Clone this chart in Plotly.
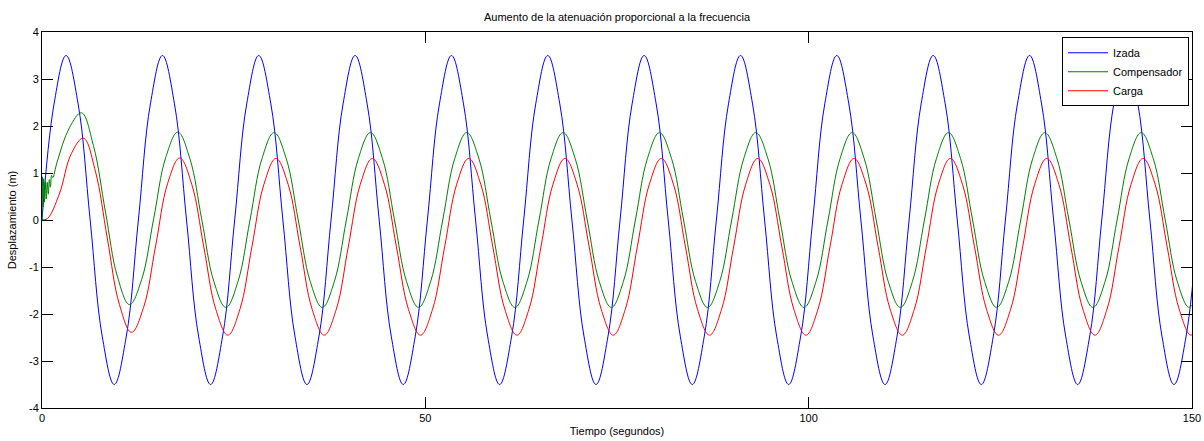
import plotly.graph_objects as go

# ---- Izada (hoist) : samples every 1/8 cycle -------------------------------
izada_t = [
    0.00, 1.57, 3.14, 4.71, 6.28, 7.85, 9.42, 11.00,
    12.57, 14.14, 15.71, 17.28, 18.85, 20.42, 21.99, 23.56,
    25.13, 26.70, 28.27, 29.85, 31.42, 32.99, 34.56, 36.13,
    37.70, 39.27, 40.84, 42.41, 43.98, 45.55, 47.12, 48.69,
    50.27, 51.84, 53.41, 54.98, 56.55, 58.12, 59.69, 61.26,
    62.83, 64.40, 65.97, 67.54, 69.12, 70.69, 72.26, 73.83,
    75.40, 76.97, 78.54, 80.11, 81.68, 83.25, 84.82, 86.39,
    87.96, 89.54, 91.11, 92.68, 94.25, 95.82, 97.39, 98.96,
    100.53, 102.10, 103.67, 105.24, 106.81, 108.38, 109.96, 111.53,
    113.10, 114.67, 116.24, 117.81, 119.38, 120.95, 122.52, 124.09,
    125.66, 127.23, 128.81, 130.38, 131.95, 133.52, 135.09, 136.66,
    138.23, 139.80, 141.37, 142.94, 144.51, 146.08, 147.65, 149.23,
    150.80,
]
izada = [
    0.00, 2.47, 3.50, 2.47, 0.00, -2.47, -3.50, -2.47,
    0.00, 2.47, 3.50, 2.47, 0.00, -2.47, -3.50, -2.47,
    0.00, 2.47, 3.50, 2.47, 0.00, -2.47, -3.50, -2.47,
    0.00, 2.47, 3.50, 2.47, 0.00, -2.47, -3.50, -2.47,
    0.00, 2.47, 3.50, 2.47, 0.00, -2.47, -3.50, -2.47,
    0.00, 2.47, 3.50, 2.47, 0.00, -2.47, -3.50, -2.47,
    0.00, 2.47, 3.50, 2.47, 0.00, -2.47, -3.50, -2.47,
    0.00, 2.47, 3.50, 2.47, 0.00, -2.47, -3.50, -2.47,
    0.00, 2.47, 3.50, 2.47, 0.00, -2.47, -3.50, -2.47,
    0.00, 2.47, 3.50, 2.47, 0.00, -2.47, -3.50, -2.47,
    0.00, 2.47, 3.50, 2.47, 0.00, -2.47, -3.50, -2.47,
    0.00, 2.47, 3.50, 2.47, 0.00, -2.47, -3.50, -2.47,
    0.00,
]

# ---- Compensador : start-up ripple, then samples every 1/8 cycle ------------
compensador_t = [
    0.00, 0.05, 0.13, 0.22, 0.32, 0.43, 0.55, 0.68, 0.82, 0.96, 1.10, 1.25, 1.40,
    2.00, 3.57, 5.14, 6.71, 8.28, 9.85, 11.42, 12.99,
    14.57, 16.14, 17.71, 19.28, 20.85, 22.42, 23.99, 25.56,
    27.13, 28.70, 30.27, 31.85, 33.42, 34.99, 36.56, 38.13,
    39.70, 41.27, 42.84, 44.41, 45.98, 47.55, 49.12, 50.69,
    52.27, 53.84, 55.41, 56.98, 58.55, 60.12, 61.69, 63.26,
    64.83, 66.40, 67.97, 69.54, 71.12, 72.69, 74.26, 75.83,
    77.40, 78.97, 80.54, 82.11, 83.68, 85.25, 86.82, 88.39,
    89.96, 91.54, 93.11, 94.68, 96.25, 97.82, 99.39, 100.96,
    102.53, 104.10, 105.67, 107.24, 108.81, 110.38, 111.96, 113.53,
    115.10, 116.67, 118.24, 119.81, 121.38, 122.95, 124.52, 126.09,
    127.66, 129.23, 130.81, 132.38, 133.95, 135.52, 137.09, 138.66,
    140.23, 141.80, 143.37, 144.94, 146.51, 148.08, 149.65, 151.23,
]
compensador = [
    0.00, 0.92, 0.28, 0.88, 0.38, 0.82, 0.45, 0.80, 0.55, 0.86, 0.70, 0.95, 0.90,
    1.25, 1.96, 2.28, 1.58, 0.17, -1.21, -1.80, -1.27,
    0.03, 1.33, 1.87, 1.31, 0.00, -1.31, -1.86, -1.31,
    0.00, 1.31, 1.86, 1.31, 0.00, -1.31, -1.86, -1.31,
    0.00, 1.31, 1.86, 1.31, 0.00, -1.31, -1.86, -1.31,
    0.00, 1.31, 1.86, 1.31, 0.00, -1.31, -1.86, -1.31,
    0.00, 1.31, 1.86, 1.31, 0.00, -1.31, -1.86, -1.31,
    0.00, 1.31, 1.86, 1.31, 0.00, -1.31, -1.86, -1.31,
    0.00, 1.31, 1.86, 1.31, 0.00, -1.31, -1.86, -1.31,
    0.00, 1.31, 1.86, 1.31, 0.00, -1.31, -1.86, -1.31,
    0.00, 1.31, 1.86, 1.31, 0.00, -1.31, -1.86, -1.31,
    0.00, 1.31, 1.86, 1.31, 0.00, -1.31, -1.86, -1.31,
    0.00, 1.31, 1.86, 1.31, 0.00, -1.31, -1.86, -1.31,
]

# ---- Carga (load) ----------------------------------------------------------
carga_t = [
    0.00, 0.70,
    2.25, 3.82, 5.39, 6.96, 8.53, 10.10, 11.67, 13.25,
    14.82, 16.39, 17.96, 19.53, 21.10, 22.67, 24.24, 25.81,
    27.38, 28.95, 30.52, 32.10, 33.67, 35.24, 36.81, 38.38,
    39.95, 41.52, 43.09, 44.66, 46.23, 47.80, 49.37, 50.94,
    52.52, 54.09, 55.66, 57.23, 58.80, 60.37, 61.94, 63.51,
    65.08, 66.65, 68.22, 69.79, 71.37, 72.94, 74.51, 76.08,
    77.65, 79.22, 80.79, 82.36, 83.93, 85.50, 87.07, 88.64,
    90.21, 91.79, 93.36, 94.93, 96.50, 98.07, 99.64, 101.21,
    102.78, 104.35, 105.92, 107.49, 109.06, 110.63, 112.21, 113.78,
    115.35, 116.92, 118.49, 120.06, 121.63, 123.20, 124.77, 126.34,
    127.91, 129.48, 131.06, 132.63, 134.20, 135.77, 137.34, 138.91,
    140.48, 142.05, 143.62, 145.19, 146.76, 148.33, 149.90, 151.48,
]
carga = [
    0.00, 0.03,
    0.55, 1.41, 1.74, 1.04, -0.40, -1.80, -2.39, -1.86,
    -0.55, 0.78, 1.32, 0.76, -0.57, -1.90, -2.45, -1.90,
    -0.57, 0.76, 1.31, 0.76, -0.57, -1.90, -2.45, -1.90,
    -0.57, 0.76, 1.31, 0.76, -0.57, -1.90, -2.45, -1.90,
    -0.57, 0.76, 1.31, 0.76, -0.57, -1.90, -2.45, -1.90,
    -0.57, 0.76, 1.31, 0.76, -0.57, -1.90, -2.45, -1.90,
    -0.57, 0.76, 1.31, 0.76, -0.57, -1.90, -2.45, -1.90,
    -0.57, 0.76, 1.31, 0.76, -0.57, -1.90, -2.45, -1.90,
    -0.57, 0.76, 1.31, 0.76, -0.57, -1.90, -2.45, -1.90,
    -0.57, 0.76, 1.31, 0.76, -0.57, -1.90, -2.45, -1.90,
    -0.57, 0.76, 1.31, 0.76, -0.57, -1.90, -2.45, -1.90,
    -0.57, 0.76, 1.31, 0.76, -0.57, -1.90, -2.45, -1.90,
]

x_ticks = [0, 50, 100, 150]
y_ticks = [-4, -3, -2, -1, 0, 1, 2, 3, 4]

FONT = "Liberation Sans, Arial, Helvetica, sans-serif"

fig = go.Figure()
fig.add_trace(go.Scatter(
    x=izada_t, y=izada, name="Izada", mode="lines",
    line=dict(color="#0000ff", width=1, shape="spline", smoothing=1.1),
))
fig.add_trace(go.Scatter(
    x=compensador_t, y=compensador, name="Compensador", mode="lines",
    line=dict(color="#008000", width=1, shape="spline", smoothing=1.1),
))
fig.add_trace(go.Scatter(
    x=carga_t, y=carga, name="Carga", mode="lines",
    line=dict(color="#ff0000", width=1, shape="spline", smoothing=1.1),
))

fig.update_layout(
    width=1204, height=441,
    margin=dict(l=42, r=12, t=32, b=33),
    paper_bgcolor="white", plot_bgcolor="white",
    font=dict(family=FONT, size=11, color="black"),
    title=dict(
        text="Aumento de la atenuación proporcional a la frecuencia",
        x=0.5, xref="paper", xanchor="center",
        y=1 - 17 / 441, yref="container", yanchor="middle",
        font=dict(family=FONT, size=11, color="black"),
    ),
    legend=dict(
        x=0.9974, y=0.986, xanchor="right", yanchor="top",
        bgcolor="white", bordercolor="black", borderwidth=1,
        font=dict(family=FONT, size=11, color="black"),
        tracegroupgap=0, itemwidth=40,
    ),
    showlegend=True,
)

fig.update_xaxes(
    range=[0, 150], tickvals=x_ticks, ticktext=[str(v) for v in x_ticks],
    ticks="inside", ticklen=11, tickwidth=1, tickcolor="black",
    showline=True, linecolor="black", linewidth=1, mirror="allticks",
    showgrid=False, zeroline=False, automargin=False,
    tickfont=dict(family=FONT, size=11, color="black"),
    title=dict(text="Tiempo (segundos)", standoff=4,
               font=dict(family=FONT, size=11, color="black")),
)
fig.update_yaxes(
    range=[-4, 4], tickvals=y_ticks, ticktext=[str(v) for v in y_ticks],
    ticks="inside", ticklen=11, tickwidth=1, tickcolor="black",
    showline=True, linecolor="black", linewidth=1, mirror="allticks",
    showgrid=False, zeroline=False, automargin=False,
    tickfont=dict(family=FONT, size=11, color="black"),
    title=dict(text="Desplazamiento (m)", standoff=10,
               font=dict(family=FONT, size=11, color="black")),
)

fig.write_html("out.html")
